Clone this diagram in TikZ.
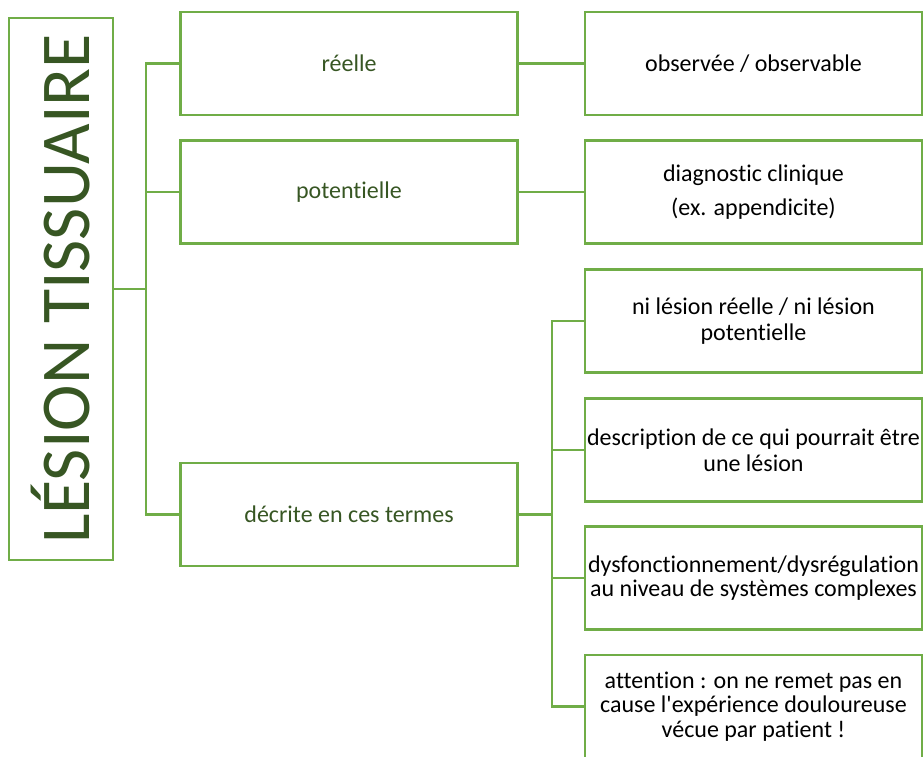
\documentclass[tikz,border=0pt]{standalone}
\usepackage{fontspec}
\setmainfont{Carlito}
\newfontfamily\boxfont{Carlito}[Ligatures=NoCommon]
\usetikzlibrary{positioning}
\definecolor{leafgreen}{HTML}{70AD47}
\definecolor{darkgreen}{HTML}{375623}

\begin{document}
\begin{tikzpicture}[x=1pt,y=-1pt,
  box/.style={draw=leafgreen,line width=2.2pt,minimum width=337pt,minimum height=103pt,
    inner sep=0pt,text width=337pt,align=flush center,font=\boxfont\fontsize{24}{24.5}\selectfont},
  midbox/.style={box,text=darkgreen},
  leafbox/.style={box,text=black},
  link/.style={leafgreen,line width=2.2pt}]
\useasboundingbox (0,0) rectangle (923,756);
% root
\node[draw=leafgreen,line width=2.2pt,minimum width=104pt,minimum height=542pt,
  text=darkgreen,font=\boxfont\fontsize{70}{72}\selectfont] (root) at (61,289)
  {\rotatebox{90}{LÉSION TISSUAIRE}};
% first level
\node[midbox] (reel) at (349,63.5) {réelle};
\node[midbox] (pot)  at (349,192) {potentielle};
\node[midbox] (decr) at (349,514.5) {décrite en ces termes};
% second level
\node[leafbox] (obs)  at (753.5,63.5) {observée / observable};
\node[leafbox] (diag) at (753.5,192) {diagnostic clinique\\[9pt](ex. appendicite)};
\node[leafbox] (ni)   at (753.5,321) {ni lésion réelle / ni lésion\\[2pt]potentielle};
\node[leafbox] (desc) at (753.5,450) {description de ce qui pourrait être\\[1pt]une lésion};
\node[leafbox] (dys)  at (753.5,578) {dysfonctionnement/dysrégulation\\au niveau de systèmes complexes};
\node[leafbox] (att)  at (753.5,706.5) {attention : on ne remet pas en\\cause l'expérience douloureuse\\vécue par patient !};
% connectors
\coordinate (busA) at (146,289);
\coordinate (busB) at (552,514.5);
\foreach \n in {reel,pot,decr}
  \draw[link] (root.east) -- (busA) |- (\n.west);
\draw[link] (reel) -- (obs);
\draw[link] (pot) -- (diag);
\foreach \n in {ni,desc,dys,att}
  \draw[link] (decr.east) -- (busB) |- (\n.west);
\end{tikzpicture}
\end{document}
